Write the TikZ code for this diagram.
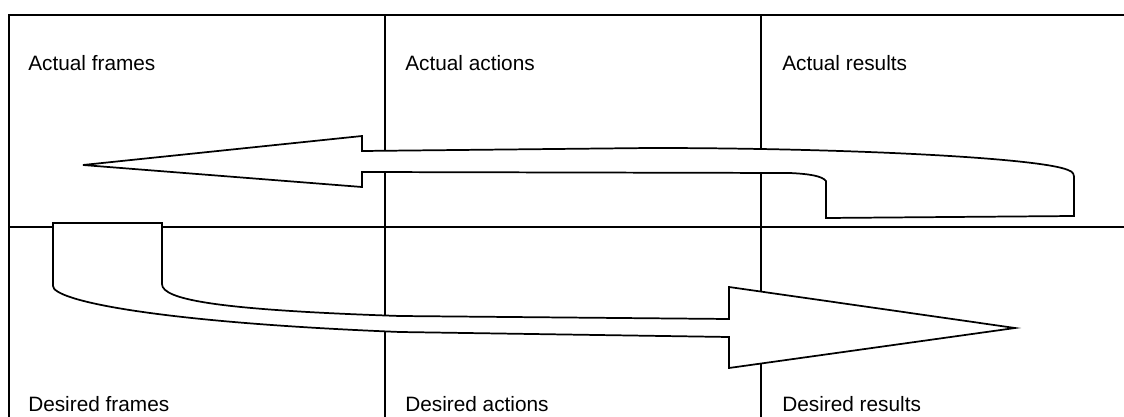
\documentclass[tikz,border=0pt]{standalone}
\usepackage{fontspec}
\setmainfont{Liberation Sans}
\begin{document}
\begin{tikzpicture}[x=0.75pt,y=-0.75pt,
  gridline/.style={line width=1.8pt,black},
  bigarrow/.style={line width=1.3pt,black,fill=white,line join=miter},
  cell/.style={anchor=base west,inner sep=0pt,font=\fontsize{15.6}{18}\selectfont}]
\useasboundingbox (0,0) rectangle (1124,417);
% grid
\draw[gridline] (9,418) -- (9,15) -- (1124,15);
\draw[gridline] (9,227) -- (1124,227);
\draw[gridline] (385,15) -- (385,418);
\draw[gridline] (761,15) -- (761,418);
% labels
\node[cell] (af) at (28,71) {Actual frames};
\node[cell] (aa) at (405,71) {Actual actions};
\node[cell] (ar) at (782,71) {Actual results};
\node[cell] (df) at (28,411) {Desired frames};
\node[cell] (da) at (405,411) {Desired actions};
\node[cell] (dr) at (782,411) {Desired results};
% upper U-turn arrow pointing left
\draw[bigarrow] (83,165) -- (362,136) -- (362,151) -- (650,148)
  .. controls (850,148) and (1040,158) .. (1068,170)
  .. controls (1074,172) and (1074,175) .. (1074,179)
  -- (1074,216) -- (826,218) -- (826,181)
  .. controls (822,176) and (810,174) .. (790,173)
  -- (362,172) -- (362,187) -- cycle;
% lower arrow pointing right
\draw[bigarrow] (53,223) -- (162,223) -- (162,284)
  .. controls (162,300) and (220,310) .. (400,316)
  -- (729,319) -- (729,287) -- (1015,328) -- (729,368) -- (729,337)
  -- (400,332)
  .. controls (150,322) and (53,300) .. (53,286) -- cycle;
\end{tikzpicture}
\end{document}
